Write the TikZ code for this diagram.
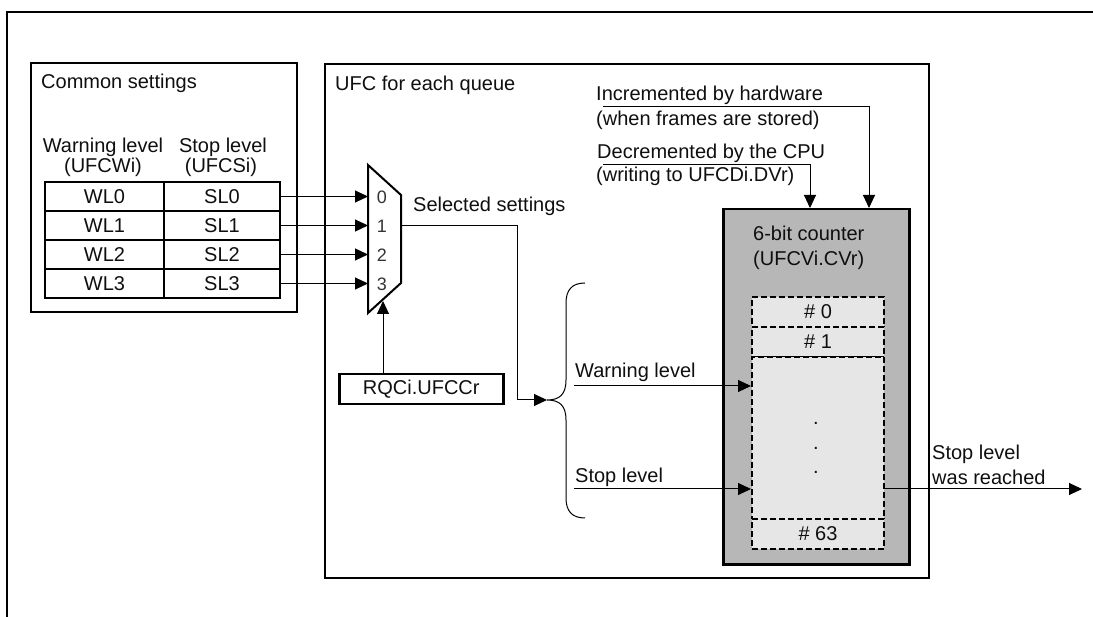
\documentclass[tikz,border=0pt]{standalone}
\usepackage{fontspec}
\setmainfont{Liberation Sans}
\usetikzlibrary{arrows.meta,calc}
\definecolor{cgray}{RGB}{183,183,183}
\definecolor{lgray}{RGB}{230,230,230}
\definecolor{txt}{RGB}{15,15,15}
\begin{document}
\begin{tikzpicture}[x=1pt,y=-1pt,
  every node/.style={font=\fontsize{20}{24}\selectfont, inner sep=0pt, text=txt},
  box/.style={draw, line width=2pt, rectangle, anchor=north west},
  cell/.style={draw, line width=2pt, minimum height=29pt, anchor=north west},
  conn/.style={line width=1pt},
  arr/.style={line width=1pt, -{Triangle[length=13pt,width=12pt]}},
  lbl/.style={anchor=west},
  dcell/.style={draw, dash pattern=on 6pt off 3pt, line width=2pt, fill=lgray, minimum width=132pt, anchor=north west},
  muxnum/.style={font=\fontsize{18}{18}\selectfont, text=black!80},
]
\useasboundingbox (0,0) rectangle (1093,617);
% outer frame
\draw[line width=2pt] (7,617) -- (7,12) -- (1093,12);

% common settings
\node[box, minimum width=266pt, minimum height=249pt] (common) at (30,62) {};
\node[lbl] (commonlbl) at (41,83) {Common settings};
\node (wlhead) at (103,147) {Warning level};
\node (wlhead2) at (103,167) {(UFCWi)};
\node (slhead) at (223,147) {Stop level};
\node (slhead2) at (221,167) {(UFCSi)};
\foreach \i in {0,1,2,3}{
  \node[cell, minimum width=119pt] (wl\i) at (44,{181+29*\i}) {WL\i};
  \node[cell, minimum width=116pt] (sl\i) at (163,{181+29*\i}) {SL\i};
}

% UFC box
\node[box, minimum width=604pt, minimum height=514pt] (ufc) at (324,63) {};
\node[lbl] (ufclbl) at (335,85) {UFC for each queue};

% multiplexer
\draw[line width=2pt, fill=white] (368,165) -- (401,195) -- (401,283) -- (368,313) -- cycle;
\coordinate (muxL) at (368,0);
\coordinate (muxR) at (401,0);
\foreach \i in {0,1,2,3}{
  \draw[arr] (sl\i.east) -- (sl\i.east -| muxL);
  \node[muxnum] (m\i) at (382,{197+29*\i}) {\i};
}
\node[lbl] (selset) at (413,206) {Selected settings};

% select register
\node[draw, line width=2.5pt, minimum width=164pt, minimum height=30pt, anchor=north west] (rqc) at (338,373) {RQCi.UFCCr};
\coordinate (muxsel) at (383,301);
\draw[arr] (rqc.north -| muxsel) -- (muxsel);

% brace
\coordinate (bracetip) at (547,400);
\coordinate (bend) at (517,400);
\draw[arr] (sl1.east -| muxR) -| (bend) -- (bracetip);
\draw[line width=1pt] (585,283) .. controls (572,283) and (566,290) .. (566,303)
  -- (566,380) .. controls (566,394) and (560,400) .. (bracetip)
  .. controls (560,400) and (566,406) .. (566,420)
  -- (566,498) .. controls (566,511) and (572,518) .. (585,518);

% counter
\node[draw, line width=2.5pt, fill=cgray, minimum width=186pt, minimum height=355pt, anchor=north west] (counter) at (722,208) {};
\node[lbl] (cntlbl1) at (753,233) {6-bit counter};
\node[lbl] (cntlbl2) at (753,260) {(UFCVi.CVr)};
\node[dcell, minimum height=30pt] (c0) at (751,296) {\# 0};
\node[dcell, minimum height=30pt] (c1) at (751,326) {\# 1};
\node[dcell, minimum height=162pt] (cmid) at (751,356) {};
\node[dcell, minimum height=30pt] (c63) at (751,518) {\# 63};
\node (dot1) at (816,423) {.};
\node (dot2) at (816,448) {.};
\node (dot3) at (816,472) {.};

% level arrows
\coordinate (wstart) at (574,386);
\draw[arr] (wstart) -- (wstart -| cmid.west);
\node[lbl] (wlbl) at (575,372) {Warning level};
\coordinate (sstart) at (574,489);
\draw[arr] (sstart) -- (sstart -| cmid.west);
\node[lbl] (slbl) at (575,477) {Stop level};

% output
\coordinate (outend) at (1082,489);
\draw[arr] (sstart -| cmid.east) -- (outend);
\node[lbl] (outlbl1) at (932,454) {Stop level};
\node[lbl] (outlbl2) at (932,477) {was reached};

% top inputs
\coordinate (hwstart) at (603,107);
\coordinate (hwcorner) at (869,107);
\draw[arr] (hwstart) -- (hwcorner) -- (hwcorner |- counter.north);
\coordinate (cpustart) at (603,165);
\coordinate (cpucorner) at (810,165);
\draw[arr] (cpustart) -- (cpucorner) -- (cpucorner |- counter.north);
\node[lbl] (hwlbl1) at (596,95) {Incremented by hardware};
\node[lbl] (hwlbl2) at (596,120) {(when frames are stored)};
\node[lbl] (cpulbl1) at (597,153) {Decremented by the CPU};
\node[lbl] (cpulbl2) at (596,176) {(writing to UFCDi.DVr)};
\end{tikzpicture}
\end{document}
